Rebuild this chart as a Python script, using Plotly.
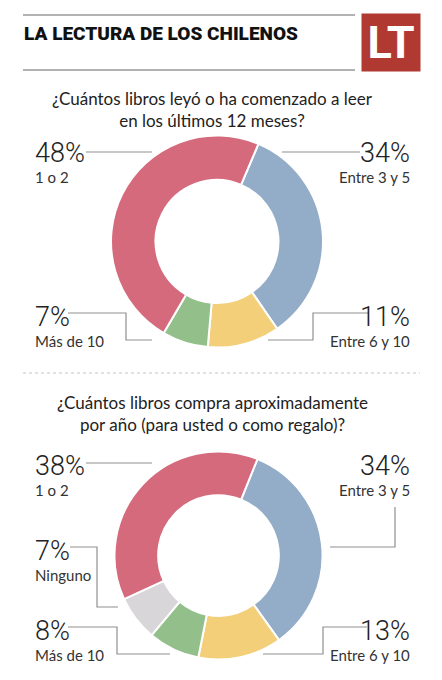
import plotly.graph_objects as go

# the page body keeps its 8px margin, so the figure is drawn 8px in
W, H = 442, 680
OFF = 8
FW, FH = W - OFF, H - OFF

# chart 1: books read in the last 12 months
q1_labels = ["Entre 3 y 5", "Entre 6 y 10", "Más de 10", "1 o 2"]
q1_values = [34, 11, 7, 48]
q1_colors = ["#93acc7", "#f3cf79", "#93c08a", "#d56a7d"]

# chart 2: books bought per year
q2_labels = ["Entre 3 y 5", "Entre 6 y 10", "Más de 10", "Ninguno", "1 o 2"]
q2_values = [34, 13, 8, 7, 38]
q2_colors = ["#93acc7", "#f3cf79", "#93c08a", "#d8d6d8", "#d56a7d"]

title = "LA LECTURA DE LOS CHILENOS"
q1_title = "¿Cuántos libros leyó o ha comenzado a leer<br>en los últimos 12 meses?"
q2_title = "¿Cuántos libros compra aproximadamente<br>por año (para usted o como regalo)?"

NUM_FONT = "Roboto, sans-serif"
TXT_FONT = "Lato, Open Sans, sans-serif"
LINE = "#8f8f8f"


def px(x):
    return (x - OFF) / FW


def py(y):
    return 1 - (y - OFF) / FH


def domain(cx, cy, r):
    return dict(x=[px(cx - r), px(cx + r)], y=[py(cy + r), py(cy - r)])


fig = go.Figure()
fig.add_trace(go.Pie(labels=q1_labels, values=q1_values, sort=False,
                     direction="clockwise", rotation=23, hole=0.58,
                     marker=dict(colors=q1_colors, line=dict(color="white", width=2)),
                     textinfo="none", hoverinfo="label+percent",
                     domain=domain(217, 241.5, 106), showlegend=False))
fig.add_trace(go.Pie(labels=q2_labels, values=q2_values, sort=False,
                     direction="clockwise", rotation=22, hole=0.58,
                     marker=dict(colors=q2_colors, line=dict(color="white", width=2)),
                     textinfo="none", hoverinfo="label+percent",
                     domain=domain(218.5, 555.5, 104), showlegend=False))

shapes = []
annotations = []


def hline(x0, y0, x1, y1, color=LINE, width=1.2, dash="solid"):
    shapes.append(dict(type="line", xref="paper", yref="paper",
                       x0=px(x0), y0=py(y0), x1=px(x1), y1=py(y1),
                       line=dict(color=color, width=width, dash=dash)))


def path(points):
    d = "M " + " L ".join(f"{px(x)},{py(y)}" for x, y in points)
    shapes.append(dict(type="path", xref="paper", yref="paper", path=d,
                       line=dict(color=LINE, width=1.2)))


def label(x, y, value, name, side):
    anchor = "left" if side == "left" else "right"
    annotations.append(dict(x=px(x), y=py(y), xref="paper", yref="paper",
                            text=f"{value}%", showarrow=False, xanchor=anchor,
                            yanchor="middle",
                            font=dict(family=NUM_FONT, size=27, weight=300,
                                      color="#222")))
    annotations.append(dict(x=px(x), y=py(y + 24), xref="paper", yref="paper",
                            text=name, showarrow=False, xanchor=anchor,
                            yanchor="middle",
                            font=dict(family=TXT_FONT, size=15, color="#333")))


# header
hline(23, 15, 355, 15, color="#999", width=1.5)
hline(23, 70, 355, 70, color="#999", width=1.5)
annotations.append(dict(x=px(391), y=py(42.5), xref="paper", yref="paper",
                        text="LT", showarrow=False, xanchor="center",
                        yanchor="middle", width=58, height=57, borderpad=0,
                        bgcolor="#b03a32", align="center", valign="middle",
                        font=dict(family="Roboto, sans-serif", size=45,
                                  weight=700, color="white")))
annotations.append(dict(x=px(22), y=py(34), xref="paper", yref="paper",
                        text=title, showarrow=False,
                        xanchor="left", yanchor="middle",
                        font=dict(family="Roboto, sans-serif", size=19,
                                  weight=900, color="#111")))

# questions
annotations.append(dict(x=px(212), y=py(109), xref="paper", yref="paper",
                        text=q1_title, showarrow=False, yanchor="middle",
                        font=dict(family=TXT_FONT, size=17, color="#222")))
annotations.append(dict(x=px(212), y=py(413), xref="paper", yref="paper",
                        text=q2_title, showarrow=False, yanchor="middle",
                        font=dict(family=TXT_FONT, size=17, color="#222")))
hline(23, 373, 420, 373, color="#c4c4c4", width=1, dash="dot")

# chart 1 labels
label(33, 153, q1_values[3], q1_labels[3], "left")
label(412, 153, q1_values[0], q1_labels[0], "right")
label(33, 317, q1_values[2], q1_labels[2], "left")
label(412, 317, q1_values[1], q1_labels[1], "right")
hline(86, 152, 152, 152)
hline(282, 152, 360, 152)
path([(68, 313), (126, 313), (126, 340), (152, 340)])
path([(368, 313), (313, 313), (313, 340), (268, 340)])

# chart 2 labels
label(33, 466, q2_values[4], q2_labels[4], "left")
label(412, 466, q2_values[0], q2_labels[0], "right")
label(33, 551, q2_values[3], q2_labels[3], "left")
label(33, 631, q2_values[2], q2_labels[2], "left")
label(412, 631, q2_values[1], q2_labels[1], "right")
hline(86, 463, 152, 463)
path([(395, 507), (395, 547), (330, 547)])
path([(70, 547), (97, 547), (97, 607), (118, 607)])
path([(68, 627), (117, 627), (117, 654), (170, 654)])
path([(367, 627), (323, 627), (323, 654), (263, 654)])

fig.update_layout(width=FW, height=FH, margin=dict(l=0, r=0, t=0, b=0),
                  paper_bgcolor="white", plot_bgcolor="white",
                  shapes=shapes, annotations=annotations)

fig.write_html("out.html")
